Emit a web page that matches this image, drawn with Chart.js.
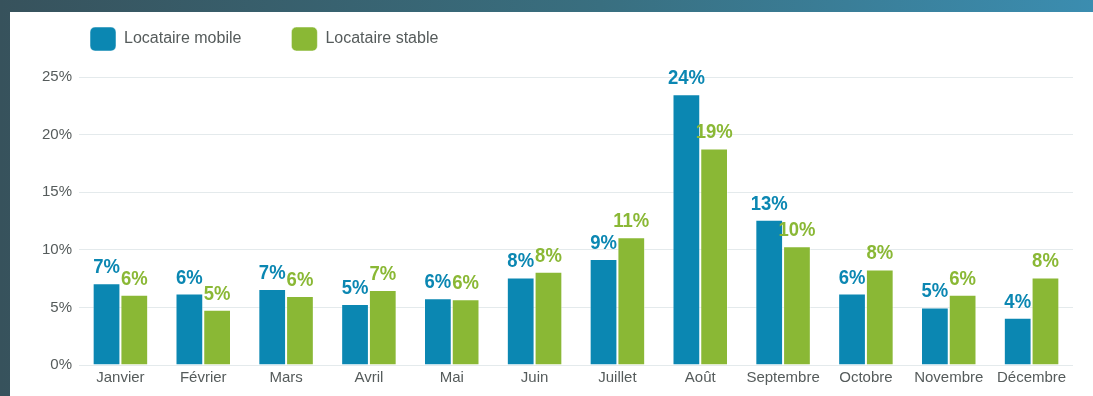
<!DOCTYPE html>
<html lang="fr">
<head>
<meta charset="utf-8">
<script src="https://cdn.jsdelivr.net/npm/chart.js@4"></script>
<style>
  html, body { margin: 0; padding: 0; }
  body {
    width: 1093px; height: 396px; overflow: hidden; position: relative;
    background: linear-gradient(90deg, #37525c 0%, #396f80 55%, #3b8db0 100%);
  }
  #panel { position: absolute; left: 10px; top: 12px; right: 0; bottom: 0; background: #fff; }
  #wrap { position: absolute; left: 0; top: -23px; width: 1093px; height: 419px; }
</style>
</head>
<body>
<div id="panel"></div>
<div id="wrap"><canvas id="chart-mois"></canvas></div>
<script>
var mois = ["Janvier", "Février", "Mars", "Avril", "Mai", "Juin", "Juillet", "Août", "Septembre", "Octobre", "Novembre", "Décembre"];
var locataireMobile = [7.1, 6.2, 6.6, 5.3, 5.8, 7.6, 9.2, 23.5, 12.6, 6.2, 5.0, 4.1];
var locataireStable = [6.1, 4.8, 6.0, 6.5, 5.7, 8.1, 11.1, 18.8, 10.3, 8.3, 6.1, 7.6];
var yTicks = [0, 5, 10, 15, 20, 25];

var bleu = "#0b87b2";
var vert = "#8ab835";
var gris = "#555b5b";
var police = "'Liberation Sans', Arial, sans-serif";

// pourcentages arrondis au-dessus de chaque barre (texte un peu resserré)
var valueLabels = {
    id: "valueLabels",
    afterDatasetsDraw(chart) {
        let ctx = chart.ctx;
        chart.data.datasets.forEach((dataset, i) => {
            chart.getDatasetMeta(i).data.forEach((bar, j) => {
                ctx.save();
                ctx.translate(bar.x, bar.y - 10);
                ctx.scale(0.88, 1);
                ctx.font = "bold 21px " + police;
                ctx.textAlign = "center";
                ctx.textBaseline = "alphabetic";
                ctx.fillStyle = dataset.backgroundColor;
                ctx.fillText(Math.round(dataset.data[j]) + "%", 0, 0);
                ctx.restore();
            });
        });
    }
};

// un peu d'air entre la légende et le graphique
var legendSpacing = {
    id: "legendSpacing",
    beforeInit(chart) {
        let fit = chart.legend.fit;
        chart.legend.fit = function () {
            fit.call(this);
            this.height += 16;
        };
    }
};

function createBarChart(id) {
    var ctx = document.getElementById(id).getContext("2d");
    return new Chart(ctx, {
        type: "bar",
        data: {
            labels: mois,
            datasets: [{
                label: "Locataire mobile",
                data: locataireMobile,
                backgroundColor: bleu,
                borderColor: "rgba(255, 255, 255, .5)",
                borderWidth: 1
            }, {
                label: "Locataire stable",
                data: locataireStable,
                backgroundColor: vert,
                borderColor: "rgba(255, 255, 255, .5)",
                borderWidth: 1
            }]
        },
        options: {
            responsive: true,
            maintainAspectRatio: false,
            animation: false,
            datasets: {
                bar: { categoryPercentage: 0.67, barPercentage: 1 }
            },
            layout: {
                padding: { left: 40, right: 20, top: 0, bottom: 5 }
            },
            plugins: {
                tooltip: { enabled: false },
                legend: {
                    position: "top",
                    align: "start",
                    labels: {
                        boxWidth: 26,
                        boxHeight: 24,
                        useBorderRadius: true,
                        borderRadius: 5,
                        padding: 50,
                        color: gris,
                        font: { size: 16, family: police }
                    }
                }
            },
            scales: {
                y: {
                    min: 0,
                    max: 25,
                    afterFit(scale) { scale.width = 39; },
                    afterBuildTicks(scale) {
                        scale.ticks = yTicks.map(v => ({ value: v }));
                    },
                    border: { display: false },
                    grid: {
                        drawTicks: false,
                        color: "#e4eaec",
                        lineWidth: 1
                    },
                    ticks: {
                        padding: 7,
                        color: gris,
                        font: { size: 15, family: police },
                        callback: v => v + "%"
                    }
                },
                x: {
                    border: { display: false },
                    grid: { display: false, drawTicks: false },
                    ticks: {
                        padding: 4,
                        color: gris,
                        font: { size: 15, family: police }
                    }
                }
            }
        },
        plugins: [valueLabels, legendSpacing]
    });
}

createBarChart("chart-mois");
</script>
</body>
</html>
